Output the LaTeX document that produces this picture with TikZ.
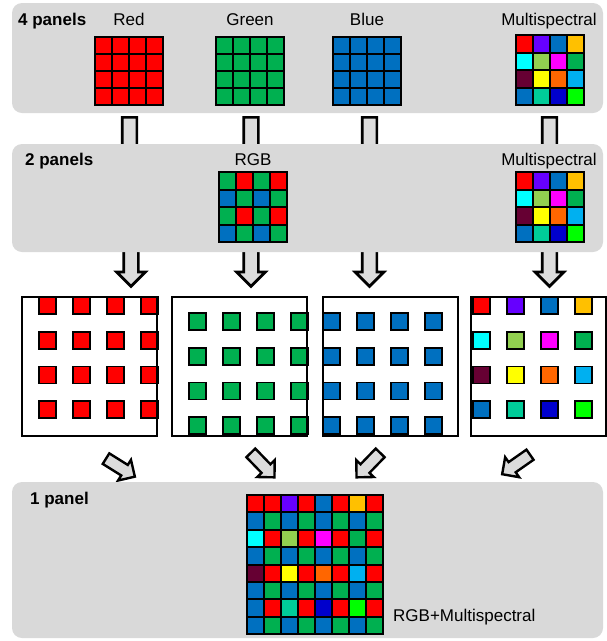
\documentclass[tikz,border=0pt]{standalone}
\usepackage{fontspec}
\setmainfont{Liberation Sans}
\usetikzlibrary{shapes.arrows}
\definecolor{panelgrey}{HTML}{D9D9D9}
\definecolor{arrowgrey}{HTML}{DCDCDC}
\definecolor{cR}{HTML}{FF0000}
\definecolor{cG}{HTML}{00B050}
\definecolor{cB}{HTML}{0070C0}
\definecolor{cV}{HTML}{6600FF}
\definecolor{cAm}{HTML}{FFC000}
\definecolor{cCy}{HTML}{00FFFF}
\definecolor{cLG}{HTML}{92D050}
\definecolor{cMa}{HTML}{FF00FF}
\definecolor{cMr}{HTML}{660033}
\definecolor{cYe}{HTML}{FFFF00}
\definecolor{cOr}{HTML}{FF6600}
\definecolor{cSk}{HTML}{00B0F0}
\definecolor{cTe}{HTML}{00CC99}
\definecolor{cDB}{HTML}{0000CC}
\definecolor{cLi}{HTML}{00FF00}
% x y ncols cellh colours
\newcommand{\cgrid}[5]{%
  \foreach \cc [count=\k from 0] in {#5} {%
    \pgfmathtruncatemacro{\cx}{mod(\k,#3)}%
    \pgfmathtruncatemacro{\cy}{div(\k,#3)}%
    \filldraw[fill=\cc, draw=black, line width=2] ({#1+\cx*17},{#2+\cy*#4}) rectangle ++(17,#4);
  }}
% x y offx offy colours
\newcommand{\sparsepanel}[5]{%
  \fill[white] (#1,#2) rectangle ++(135,139);
  \foreach \cc [count=\k from 0] in {#5} {%
    \pgfmathtruncatemacro{\cx}{mod(\k,4)}%
    \pgfmathtruncatemacro{\cy}{div(\k,4)}%
    \filldraw[fill=\cc, draw=black, line width=1.7] ({#1+#3+\cx*34},{#2+#4+\cy*34.7}) rectangle ++(17,17);
  }
  \draw[line width=2.2] (#1,#2) rectangle ++(135,139);
}
\begin{document}
\begin{tikzpicture}[x=1pt, y={(0,-1pt)},
  panel/.style={fill=panelgrey, rounded corners=10},
  lbl/.style={font=\fontsize{17}{20}\selectfont, anchor=base, inner sep=0},
  plbl/.style={font=\fontsize{17}{20}\selectfont\bfseries, anchor=base west, inner sep=0},
  blockarrow/.style={single arrow, draw=black, fill=arrowgrey, line width=2.4,
     anchor=tail, single arrow head indent=0},
  varrow/.style={blockarrow, line width=2.7, inner sep=6, single arrow head extend=7, rotate=-90},
  darrow/.style={blockarrow, inner sep=5, single arrow head extend=6, minimum height=34}]
\useasboundingbox (0,0) rectangle (607,641);

% shafts between panel 1 and panel 2 (heads hidden under panel 2)
\foreach \xx/\nm in {129.5/a, 251/b, 369.5/c, 549.5/d}
  \node[varrow, minimum height=50] (s\nm) at (\xx,116) {};

% down arrows below panel 2
\foreach \xx/\nm in {131/a, 251/b, 369.5/c, 549.5/d}
  \node[varrow, minimum height=40] (v\nm) at (\xx,245) {};

% panel 1
\path[panel] (12,3) rectangle (603,113);
\node[plbl] (p4) at (18,25) {4 panels};
\node[lbl] (lred) at (129,25) {Red};
\node[lbl] (lgreen) at (250,25) {Green};
\node[lbl] (lblue) at (367,25) {Blue};
\node[lbl] (lms1) at (549,25) {Multispectral};
\cgrid{95}{37}{4}{17}{cR,cR,cR,cR,cR,cR,cR,cR,cR,cR,cR,cR,cR,cR,cR,cR}
\cgrid{216}{37}{4}{17}{cG,cG,cG,cG,cG,cG,cG,cG,cG,cG,cG,cG,cG,cG,cG,cG}
\cgrid{333}{37}{4}{17}{cB,cB,cB,cB,cB,cB,cB,cB,cB,cB,cB,cB,cB,cB,cB,cB}
\cgrid{516}{35}{4}{17.5}{cR,cV,cB,cAm,cCy,cLG,cMa,cG,cMr,cYe,cOr,cSk,cB,cTe,cDB,cLi}

% panel 2
\path[panel] (12,144) rectangle (603,252);
\node[plbl] (p2) at (25,165) {2 panels};
\node[lbl] (lrgb) at (253,165) {RGB};
\node[lbl] (lms2) at (549,165) {Multispectral};
\cgrid{219}{172}{4}{17.5}{cG,cR,cG,cR,cB,cG,cB,cG,cG,cR,cG,cR,cB,cG,cB,cG}
\cgrid{516}{172}{4}{17.5}{cR,cV,cB,cAm,cCy,cLG,cMa,cG,cMr,cYe,cOr,cSk,cB,cTe,cDB,cLi}

% sparse panels
\sparsepanel{22}{297}{17}{0}{cR,cR,cR,cR,cR,cR,cR,cR,cR,cR,cR,cR,cR,cR,cR,cR}
\sparsepanel{172}{297}{17}{16}{cG,cG,cG,cG,cG,cG,cG,cG,cG,cG,cG,cG,cG,cG,cG,cG}
\sparsepanel{323}{297}{0}{16}{cB,cB,cB,cB,cB,cB,cB,cB,cB,cB,cB,cB,cB,cB,cB,cB}
\sparsepanel{471}{297}{2}{0}{cR,cV,cB,cAm,cCy,cLG,cMa,cG,cMr,cYe,cOr,cSk,cB,cTe,cDB,cLi}

% diagonal arrows
\node[darrow, rotate=-32] (da) at (105,458) {};
\node[darrow, rotate=-46] (db) at (250,452) {};
\node[darrow, rotate=-134] (dc) at (381,452) {};
\node[darrow, rotate=-145] (dd) at (531,454) {};

% panel 3
\path[panel] (12,482) rectangle (603,638);
\node[plbl] (p1) at (30,504) {1 panel};
\cgrid{247}{495}{8}{17.4}{%
 cR,cR,cV,cR,cB,cR,cAm,cR,
 cB,cG,cB,cG,cB,cG,cB,cG,
 cCy,cR,cLG,cR,cMa,cR,cG,cR,
 cB,cG,cB,cG,cB,cG,cB,cG,
 cMr,cR,cYe,cR,cOr,cR,cSk,cR,
 cB,cG,cB,cG,cB,cG,cB,cG,
 cB,cR,cTe,cR,cDB,cR,cLi,cR,
 cB,cG,cB,cG,cB,cG,cB,cG}
\node[lbl, anchor=base west] (lrgbms) at (393,621) {RGB+Multispectral};
\end{tikzpicture}
\end{document}
